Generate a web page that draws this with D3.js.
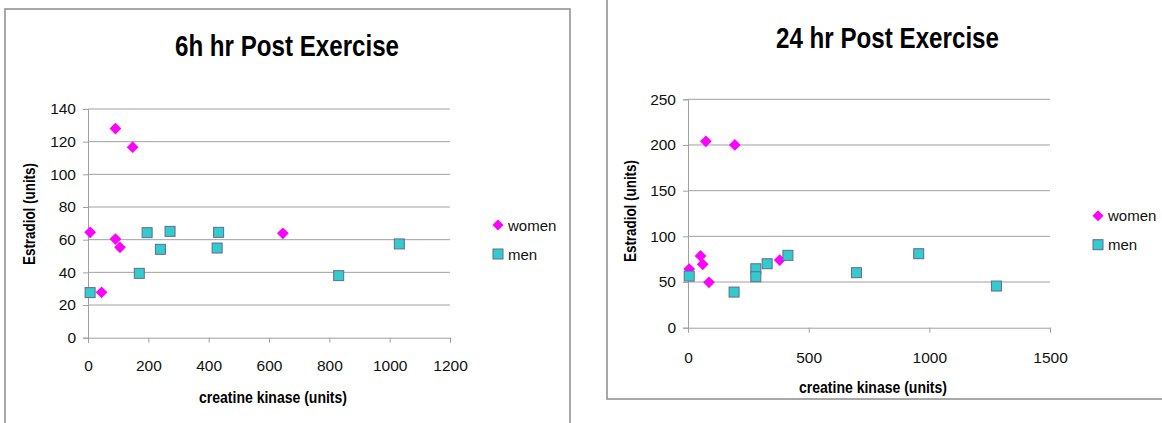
<!DOCTYPE html>
<html>
<head>
<meta charset="utf-8">
<script src="https://cdn.jsdelivr.net/npm/d3@7"></script>
<style>
  html, body { margin: 0; padding: 0; background: #fff; }
  svg { display: block; }
  text { font-family: "Liberation Sans", Arial, sans-serif; }
</style>
</head>
<body>
<svg id="chart" width="1162" height="423"></svg>
<script>
// 6 h after exercise
const women6X = [7, 45, 91, 91, 106, 148, 646];
const women6Y = [64.5, 27.8, 128, 60.4, 55.3, 116.6, 63.9];
const men6X = [7, 170, 196, 240, 272, 428, 433, 831, 1032];
const men6Y = [27.6, 39.4, 64.3, 54.1, 65.1, 54.9, 64.5, 38, 57.4];

// 24 h after exercise
const women24X = [5, 52, 61, 74, 87, 194, 380];
const women24Y = [64.2, 78.5, 69.4, 204, 49.7, 200, 74];
const men24X = [5, 191, 281, 281, 328, 414, 698, 956, 1278];
const men24Y = [56.5, 39, 64.5, 55.8, 70, 79.2, 60.2, 81, 45.6];

const seriesNames = ["women", "men"];
const titles = ["6h hr Post Exercise", "24 hr Post Exercise"];
const xAxisTitle = "creatine kinase (units)";
const yAxisTitle = "Estradiol (units)";
const xTicks6 = [0, 200, 400, 600, 800, 1000, 1200];
const yTicks6 = [0, 20, 40, 60, 80, 100, 120, 140];
const xTicks24 = [0, 500, 1000, 1500];
const yTicks24 = [0, 50, 100, 150, 200, 250];

const svg = d3.select("#chart");
const WOMEN_FILL = "#ff00ff";
const MEN_FILL = "#33cccc";
const MEN_STROKE = "#666699";
const GRID = "#a0a0a0";

const zip = (xs, ys) => xs.map((x, i) => ({ x, y: ys[i] }));

function drawChart(cfg) {
  const g = svg.append("g");

  // chart frame
  g.append("rect")
    .attr("x", cfg.frame[0]).attr("y", cfg.frame[1])
    .attr("width", cfg.frame[2]).attr("height", cfg.frame[3])
    .attr("fill", "none").attr("stroke", "#8c8c8c").attr("stroke-width", 1.5);

  const x = d3.scaleLinear().domain(cfg.xDomain).range([cfg.left, cfg.right]);
  const y = d3.scaleLinear().domain(cfg.yDomain).range([cfg.bottom, cfg.top]);

  // horizontal gridlines
  g.append("g").selectAll("line").data(cfg.yTicks.filter(d => d > 0)).join("line")
    .attr("x1", cfg.left).attr("x2", cfg.right)
    .attr("y1", d => y(d)).attr("y2", d => y(d))
    .attr("stroke", GRID).attr("stroke-width", 1);

  // y axis
  const yAxis = g.append("g").attr("transform", `translate(${cfg.left},0)`)
    .call(d3.axisLeft(y).tickValues(cfg.yTicks).tickSize(5).tickPadding(7).tickFormat(d3.format("d")));
  yAxis.select(".domain").attr("stroke", GRID);
  yAxis.selectAll(".tick line").attr("stroke", GRID);
  yAxis.selectAll("text").attr("font-size", 15.5).attr("fill", "#111")
    .attr("font-family", "Liberation Sans, Arial, sans-serif");

  // x axis
  const xAxis = g.append("g").attr("transform", `translate(0,${cfg.bottom})`)
    .call(d3.axisBottom(x).tickValues(cfg.xTicks).tickSize(5).tickPadding(cfg.xPad).tickFormat(d3.format("d")));
  xAxis.select(".domain").attr("stroke", GRID);
  xAxis.selectAll(".tick line").attr("stroke", GRID);
  xAxis.selectAll("text").attr("font-size", 15.5).attr("fill", "#111")
    .attr("font-family", "Liberation Sans, Arial, sans-serif");

  const diamond = d3.symbol().type(d3.symbolDiamond2).size(cfg.diamondSize);

  // women series
  g.append("g").selectAll("path").data(zip(cfg.womenX, cfg.womenY)).join("path")
    .attr("d", diamond)
    .attr("transform", d => `translate(${x(d.x)},${y(d.y)})`)
    .attr("fill", WOMEN_FILL);

  // men series
  const s = 10;
  g.append("g").selectAll("rect").data(zip(cfg.menX, cfg.menY)).join("rect")
    .attr("x", d => x(d.x) - s / 2).attr("y", d => y(d.y) - s / 2)
    .attr("width", s).attr("height", s)
    .attr("fill", MEN_FILL).attr("stroke", MEN_STROKE).attr("stroke-width", 1);

  // title
  g.append("text")
    .attr("x", cfg.titlePos[0]).attr("y", cfg.titlePos[1])
    .attr("text-anchor", "middle").attr("font-size", 29).attr("font-weight", "bold")
    .attr("textLength", cfg.titleLen).attr("lengthAdjust", "spacingAndGlyphs")
    .text(cfg.title);

  // axis titles
  g.append("text")
    .attr("x", cfg.xLabelPos[0]).attr("y", cfg.xLabelPos[1])
    .attr("text-anchor", "middle").attr("font-size", 16).attr("font-weight", "bold")
    .attr("textLength", 148).attr("lengthAdjust", "spacingAndGlyphs")
    .text(xAxisTitle);

  g.append("text")
    .attr("transform", `translate(${cfg.yLabelPos[0]},${cfg.yLabelPos[1]}) rotate(-90)`)
    .attr("text-anchor", "middle").attr("font-size", 16).attr("font-weight", "bold")
    .attr("textLength", 102).attr("lengthAdjust", "spacingAndGlyphs")
    .text(yAxisTitle);

  // legend
  const lg = g.append("g").attr("transform", `translate(${cfg.legend[0]},${cfg.legend[1]})`);
  lg.append("path").attr("d", d3.symbol().type(d3.symbolDiamond2).size(78)())
    .attr("fill", WOMEN_FILL);
  lg.append("rect").attr("x", -5).attr("y", 24).attr("width", 10).attr("height", 10)
    .attr("fill", MEN_FILL).attr("stroke", MEN_STROKE).attr("stroke-width", 1);
  lg.selectAll("text.lbl").data(seriesNames).join("text").attr("class", "lbl")
    .attr("x", 10).attr("y", (d, i) => 5.5 + i * 29)
    .attr("font-size", 15).attr("fill", "#111")
    .text(d => d);
}

drawChart({
  frame: [5, 9, 565, 430],
  left: 88, right: 450, top: 109, bottom: 337.7,
  xDomain: [0, 1200], yDomain: [0, 140],
  xTicks: xTicks6, yTicks: yTicks6, xPad: 17,
  womenX: women6X, womenY: women6Y, menX: men6X, menY: men6Y,
  diamondSize: 88,
  title: titles[0], titlePos: [287, 56], titleLen: 224,
  xLabelPos: [273, 403], yLabelPos: [35, 214],
  legend: [498, 225]
});

drawChart({
  frame: [607, -10, 580, 409],
  left: 688, right: 1050, top: 99.3, bottom: 327.7,
  xDomain: [0, 1500], yDomain: [0, 250],
  xTicks: xTicks24, yTicks: yTicks24, xPad: 19,
  womenX: women24X, womenY: women24Y, menX: men24X, menY: men24Y,
  diamondSize: 88,
  title: titles[1], titlePos: [887.5, 48], titleLen: 223,
  xLabelPos: [873, 393], yLabelPos: [636, 211],
  legend: [1098, 215.7]
});
</script>
</body>
</html>
